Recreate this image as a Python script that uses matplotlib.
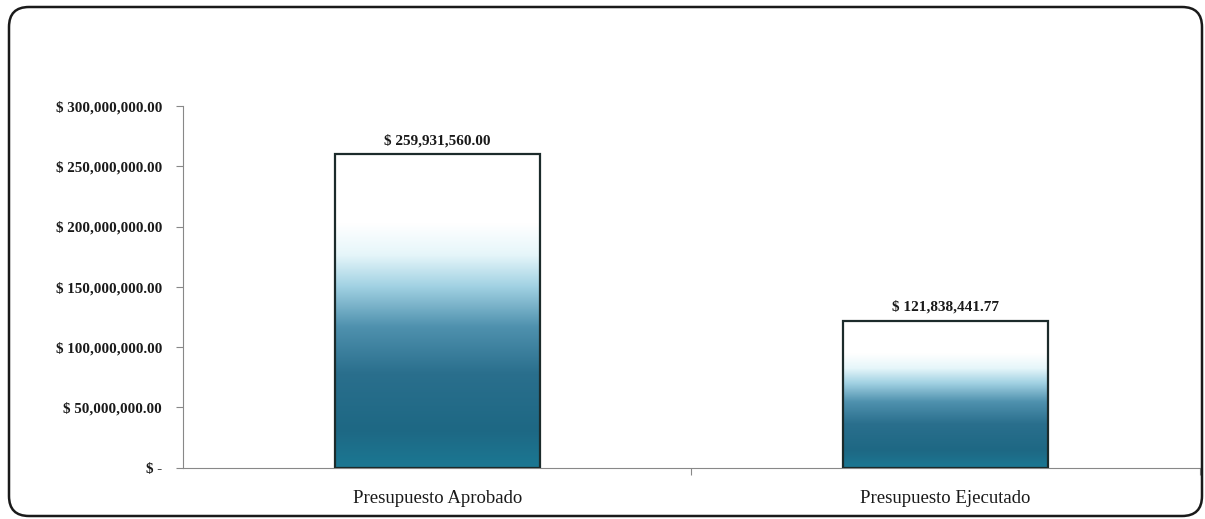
import numpy as np
import matplotlib.pyplot as plt
from matplotlib.colors import LinearSegmentedColormap
from matplotlib.patches import FancyBboxPatch

categories = ["Presupuesto Aprobado", "Presupuesto Ejecutado"]
values = [259931560.00, 121838441.77]
value_labels = ["$ 259,931,560.00", "$ 121,838,441.77"]
yticks = [0, 50e6, 100e6, 150e6, 200e6, 250e6, 300e6]
ytick_labels = ["$ -", "$ 50,000,000.00", "$ 100,000,000.00", "$ 150,000,000.00",
                "$ 200,000,000.00", "$ 250,000,000.00", "$ 300,000,000.00"]

plt.rcParams['font.family'] = ['Liberation Serif', 'DejaVu Serif']

fig = plt.figure(figsize=(12.05, 5.19), dpi=100)
ax = fig.add_axes([0.1519, 0.0992, 0.8436, 0.6965])

# rounded frame around the chart
frame = FancyBboxPatch((9, 3), 1193, 509, boxstyle="round,pad=0,rounding_size=20",
                       transform=None, fill=False, edgecolor="#1a1a1a", linewidth=1.8)
fig.patches.append(frame)

# gradient: white at the top, teal at the bottom
grad = LinearSegmentedColormap.from_list("bar_grad", [
    (0.0, "#1b7893"),
    (0.12, "#1e6884"),
    (0.3, "#2a6f8d"),
    (0.45, "#4f91ae"),
    (0.58, "#a2d2e3"),
    (0.68, "#e6f6fa"),
    (0.78, "#ffffff"),
    (1.0, "#ffffff"),
])
g = np.linspace(0, 1, 256).reshape(-1, 1)

x = np.arange(len(categories))
bars = ax.bar(x, values, width=0.403, facecolor="none", edgecolor="#1c2b2b",
              linewidth=1.6, zorder=3)
for b, lab in zip(bars, value_labels):
    x0, y0 = b.get_x(), b.get_y()
    x1, y1 = x0 + b.get_width(), y0 + b.get_height()
    ax.imshow(g, extent=[x0, x1, y0, y1], origin="lower", cmap=grad,
              aspect="auto", zorder=2, interpolation="bilinear")
    ax.annotate(lab, (b.get_x() + b.get_width() / 2, y1), xytext=(0, 5),
                textcoords="offset points", ha="center", va="bottom",
                fontsize=11, fontweight="bold", color="#1a1a1a")

ax.set_xlim(-0.5, 1.5)
ax.set_ylim(0, 300e6)
ax.set_yticks(yticks)
ax.set_yticklabels(ytick_labels, fontsize=10.8, fontweight="bold", color="#1a1a1a")
ax.set_xticks([0.5, 1.5])
ax.set_xticklabels([])
ax.set_xticks(x, minor=True)
ax.set_xticklabels(categories, minor=True, fontsize=13.5, color="#1a1a1a")
ax.tick_params(axis="x", which="minor", length=0, pad=16)
ax.tick_params(axis="x", which="major", length=5, color="#888888")
ax.tick_params(axis="y", length=5, color="#888888", pad=10)

for s in ["top", "right"]:
    ax.spines[s].set_visible(False)
for s in ["left", "bottom"]:
    ax.spines[s].set_color("#888888")
    ax.spines[s].set_linewidth(0.8)

fig.savefig("out.png", dpi=100)
